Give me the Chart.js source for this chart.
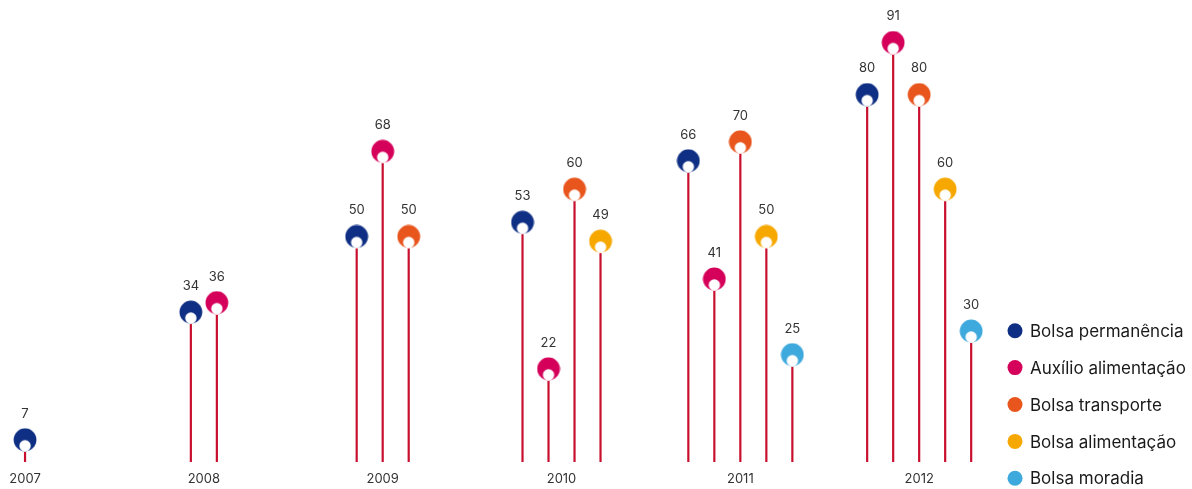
<!DOCTYPE html>
<html><head><meta charset="utf-8">
<script src="https://cdn.jsdelivr.net/npm/chart.js@4/dist/chart.umd.min.js"></script>
<style>html,body{margin:0;padding:0;background:#fff}#wrap{width:1192px;height:489px;position:relative}</style>
</head><body><div id="wrap"><canvas id="c" width="1192" height="489"></canvas></div>
<script>
const years = ['2007','2008','2009','2010','2011','2012'];
const seriesNames = ['Bolsa permanência','Auxílio alimentação','Bolsa transporte','Bolsa alimentação','Bolsa moradia'];
const bolsaPermanencia   = [7, 34, 50, 53, 66, 80];
const auxilioAlimentacao = [null, 36, 68, 22, 41, 91];
const bolsaTransporte    = [null, null, 50, 60, 70, 80];
const bolsaAlimentacao   = [null, null, null, 49, 50, 60];
const bolsaMoradia       = [null, null, null, null, 25, 30];
const seriesValues = [bolsaPermanencia, auxilioAlimentacao, bolsaTransporte, bolsaAlimentacao, bolsaMoradia];
const seriesColors = ['#0f2f84', '#d5005a', '#e8561e', '#f6a800', '#3ea9dd'];
const stemColor = '#c8102e';
const FONT = 'Inter, "Liberation Sans", Arial, sans-serif';
const slot = 26 / 178.8; // spacing between lollipops within a year, in category units

function marker(color) {
  const c = document.createElement('canvas');
  c.width = 24; c.height = 24;
  const g = c.getContext('2d');
  g.fillStyle = color;
  g.beginPath(); g.arc(12, 12, 11.4, 0, Math.PI * 2); g.fill();
  g.fillStyle = '#fff';
  g.beginPath(); g.arc(12, 18, 5.7, 0, Math.PI * 2); g.fill();
  return c;
}

const datasets = seriesValues.map((vals, s) => {
  const data = [];
  years.forEach((yr, i) => {
    if (vals[i] == null) return;
    const present = seriesValues.map((a, k) => a[i] != null ? k : -1).filter(k => k >= 0);
    const n = present.length, j = present.indexOf(s);
    data.push({ x: i + (j - (n - 1) / 2) * slot, y: vals[i] });
  });
  return {
    label: seriesNames[s],
    data,
    pointStyle: marker(seriesColors[s]),
    pointRadius: 11,
    pointHoverRadius: 11,
    backgroundColor: seriesColors[s],
    borderColor: seriesColors[s],
    showLine: false
  };
});

const stems = {
  id: 'stems',
  beforeDatasetsDraw(chart) {
    const ctx = chart.ctx, bottom = chart.chartArea.bottom;
    ctx.save();
    ctx.strokeStyle = stemColor; ctx.lineWidth = 2.2;
    chart.data.datasets.forEach((d, di) => {
      chart.getDatasetMeta(di).data.forEach(el => {
        ctx.beginPath();
        ctx.moveTo(el.x, el.y + 12);
        ctx.lineTo(el.x, bottom);
        ctx.stroke();
      });
    });
    ctx.restore();
  }
};

const valueLabels = {
  id: 'valueLabels',
  afterDatasetsDraw(chart) {
    const ctx = chart.ctx;
    ctx.save();
    ctx.fillStyle = '#333'; ctx.font = '13px ' + FONT;
    ctx.textAlign = 'center'; ctx.textBaseline = 'middle';
    chart.data.datasets.forEach((d, di) => {
      chart.getDatasetMeta(di).data.forEach((el, k) => {
        ctx.fillText(String(d.data[k].y), el.x, el.y - 26);
      });
    });
    ctx.restore();
  }
};

const sideLegend = {
  id: 'sideLegend',
  afterDraw(chart) {
    const ctx = chart.ctx;
    ctx.save();
    ctx.font = '17px ' + FONT;
    ctx.textBaseline = 'middle'; ctx.textAlign = 'left';
    seriesNames.forEach((name, k) => {
      const y = 330.7 + k * 36.9;
      ctx.fillStyle = seriesColors[k];
      ctx.beginPath(); ctx.arc(1015, y, 7.5, 0, Math.PI * 2); ctx.fill();
      ctx.fillStyle = '#1a1a1a';
      ctx.fillText(name, 1030, y + 1);
    });
    ctx.restore();
  }
};

new Chart(document.getElementById('c'), {
  type: 'scatter',
  data: { datasets },
  options: {
    responsive: false,
    animation: false,
    devicePixelRatio: 1,
    events: [],
    layout: { autoPadding: false, padding: { left: 0, right: 192, top: 0, bottom: 2 } },
    plugins: { legend: { display: false }, tooltip: { enabled: false } },
    scales: {
      x: {
        type: 'linear', min: -0.14, max: 5.452,
        afterBuildTicks(scale) { scale.ticks = years.map((y, i) => ({ value: i })); },
        afterFit(scale) { scale.paddingLeft = 0; scale.paddingRight = 0; scale.height = 25; },
        grid: { display: false, drawTicks: false },
        border: { display: false },
        ticks: {
          callback: (v) => years[v],
          color: '#333', font: { size: 13, family: FONT },
          padding: 9, maxRotation: 0, autoSkip: false
        }
      },
      y: { display: false, min: 2.3, max: 100 }
    }
  },
  plugins: [stems, valueLabels, sideLegend]
});
</script>
</body></html>
